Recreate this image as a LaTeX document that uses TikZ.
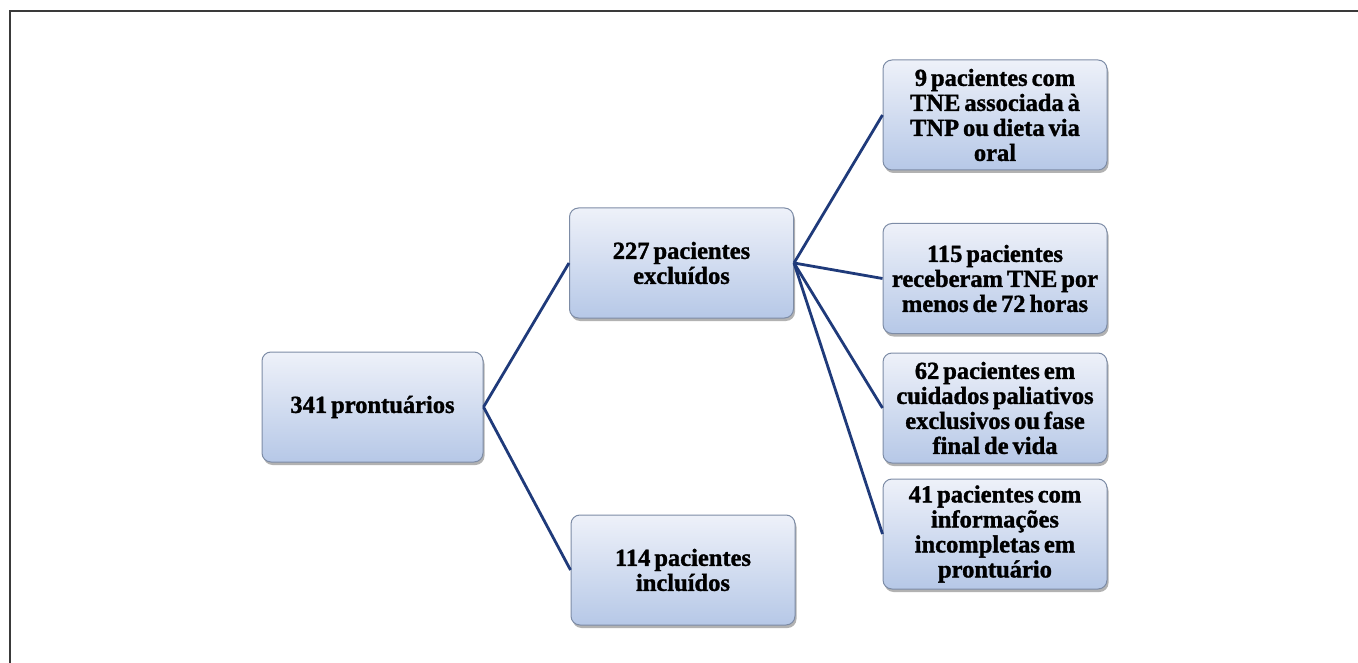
\documentclass[tikz,border=0pt]{standalone}
\usepackage{fontspec}
\setmainfont{Liberation Serif}[WordSpace=0.65, BoldFeatures={FakeBold=1.3, WordSpace=0.65}]
\usetikzlibrary{shadows}
\definecolor{linkblue}{HTML}{1F3A7A}
\definecolor{boxtop}{HTML}{EEF1F9}
\definecolor{boxbot}{HTML}{B6C8E7}
\definecolor{boxedge}{HTML}{7D8CA6}
\definecolor{framegray}{HTML}{3A3A3A}
\tikzset{
  flowbox/.style={draw=boxedge, line width=1pt, rounded corners=9pt,
    top color=boxtop, bottom color=boxbot,
    minimum width=224pt, minimum height=110pt,
    align=center, inner sep=2pt,
    font=\fontsize{24.5}{25}\selectfont\bfseries,
    drop shadow={shadow xshift=1.5pt, shadow yshift=-3pt, opacity=0.3, fill=black}},
  link/.style={draw=linkblue, line width=2.8pt},
  framerule/.style={draw=framegray, line width=1.8pt}
}
\begin{document}
\begin{tikzpicture}[x={(1pt,0)}, y={(0,-1pt)}]
\useasboundingbox (0,0) rectangle (1358,663);
\coordinate (f1) at (10,663);
\coordinate (f2) at (10,11);
\coordinate (f3) at (1358,11);
\draw[framerule] (f1) -- (f2) -- (f3);
\node[flowbox, minimum width=221pt] (a) at (372.5,407) {341 prontuários};
\node[flowbox] (b) at (681.5,263) {227 pacientes\\excluídos};
\node[flowbox] (c) at (683,570) {114 pacientes\\incluídos};
\node[flowbox] (r1) at (995,115) {9 pacientes com\\TNE associada à\\TNP ou dieta via\\oral};
\node[flowbox] (r2) at (995,278.5) {115 pacientes\\receberam TNE por\\menos de 72 horas};
\node[flowbox] (r3) at (995,408) {62 pacientes em\\cuidados paliativos\\exclusivos ou fase\\final de vida};
\node[flowbox] (r4) at (995,534) {41 pacientes com\\informações\\incompletas em\\prontuário};
\draw[link] (a.east) -- (b.west);
\draw[link] (a.east) -- (c.west);
\draw[link] (b.east) -- (r1.west);
\draw[link] (b.east) -- (r2.west);
\draw[link] (b.east) -- (r3.west);
\draw[link] (b.east) -- (r4.west);
\end{tikzpicture}
\end{document}
